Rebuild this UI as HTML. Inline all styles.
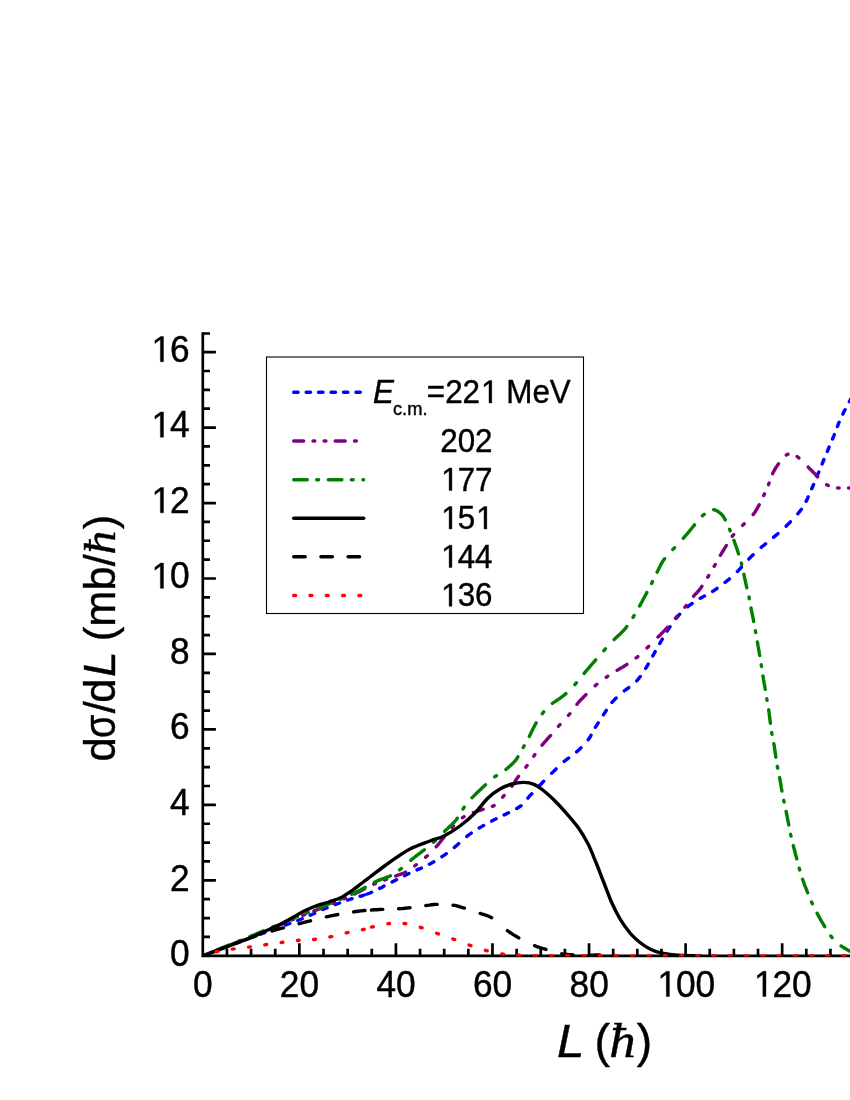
<!DOCTYPE html><html><head><meta charset="utf-8"><style>
html,body{margin:0;padding:0;background:#fff}
body{width:850px;height:1100px;overflow:hidden;font-family:"Liberation Sans",sans-serif}
svg{display:block;will-change:transform}
</style></head><body>
<svg width="850" height="1100" viewBox="0 0 850 1100">
<g stroke="#000" stroke-width="2.7" fill="none" stroke-linecap="butt">
<path d="M202.80 332.15 V957.15 M201.45 955.80 H851"/>
<path d="M202.80 333.50 h7.2M202.80 936.93 h7.2M202.80 918.07 h7.2M202.80 899.20 h7.2M202.80 880.34 h13.1M202.80 861.47 h7.2M202.80 842.61 h7.2M202.80 823.75 h7.2M202.80 804.88 h13.1M202.80 786.01 h7.2M202.80 767.15 h7.2M202.80 748.28 h7.2M202.80 729.42 h13.1M202.80 710.55 h7.2M202.80 691.69 h7.2M202.80 672.83 h7.2M202.80 653.96 h13.1M202.80 635.10 h7.2M202.80 616.23 h7.2M202.80 597.37 h7.2M202.80 578.50 h13.1M202.80 559.63 h7.2M202.80 540.77 h7.2M202.80 521.90 h7.2M202.80 503.04 h13.1M202.80 484.18 h7.2M202.80 465.31 h7.2M202.80 446.44 h7.2M202.80 427.58 h13.1M202.80 408.72 h7.2M202.80 389.85 h7.2M202.80 370.99 h7.2M202.80 352.12 h13.1M226.94 955.80 v-7.0M251.08 955.80 v-7.0M275.22 955.80 v-7.0M299.36 955.80 v-12.6M323.50 955.80 v-7.0M347.64 955.80 v-7.0M371.78 955.80 v-7.0M395.92 955.80 v-12.6M420.06 955.80 v-7.0M444.20 955.80 v-7.0M468.34 955.80 v-7.0M492.48 955.80 v-12.6M516.62 955.80 v-7.0M540.76 955.80 v-7.0M564.90 955.80 v-7.0M589.04 955.80 v-12.6M613.18 955.80 v-7.0M637.32 955.80 v-7.0M661.46 955.80 v-7.0M685.60 955.80 v-12.6M709.74 955.80 v-7.0M733.88 955.80 v-7.0M758.02 955.80 v-7.0M782.16 955.80 v-12.6M806.30 955.80 v-7.0M830.44 955.80 v-7.0"/>
</g>
<clipPath id="cp"><rect x="202.80" y="0" width="700" height="956.50"/></clipPath>
<g clip-path="url(#cp)" fill="none" stroke-linecap="round" stroke-linejoin="round" stroke-width="3.4">
<path d="M210.7 952.8L211.2 952.6L215.1 951.2M223.1 948.1L223.3 948.0L225.6 947.2L227.5 946.5M235.6 943.4L237.0 942.9L239.2 942.0L239.9 941.8M248.0 938.7L250.0 938.0L252.0 937.2L252.4 937.1M260.4 934.2L260.5 934.1L262.7 933.3L264.9 932.6M272.9 929.7L273.7 929.4L275.9 928.6L277.3 928.1M285.4 925.1L286.4 924.7L288.4 924.0L289.8 923.5M297.8 920.5L299.0 920.0L302.2 918.7M310.2 915.2L311.2 914.8L314.0 913.5L314.7 913.2M322.7 909.5L323.0 909.4L326.0 908.2L327.1 907.8M335.1 904.6L335.2 904.6L338.2 903.5L339.6 903.0M347.6 900.1L348.0 900.0L350.9 899.0L352.0 898.7M360.0 896.3L360.2 896.3L362.9 895.5L364.4 895.0M367.2 894.1L367.4 894.0L370.0 893.0L371.6 892.3M379.6 888.4L380.1 888.2L382.6 886.9L384.0 886.1M392.1 881.9L392.5 881.7L395.0 880.5L396.5 879.7M404.5 875.7L405.0 875.4L407.5 874.2L408.9 873.5M417.0 869.9L417.5 869.7L420.0 868.7L421.4 868.1M429.4 864.3L430.0 864.0L432.5 862.6L433.8 861.8M441.9 856.7L442.5 856.3L445.0 854.6L446.3 853.7M454.3 847.5L455.0 846.9L457.5 844.7L458.7 843.6M466.8 836.5L467.5 835.9L470.0 834.0L471.2 833.1M479.2 828.0L480.0 827.6L482.5 826.1L483.6 825.5M491.7 821.1L492.6 820.6L495.2 819.3L496.1 818.8M504.1 814.9L504.8 814.6L507.1 813.5L508.5 812.8M516.6 808.5L516.8 808.5L518.1 807.7L519.5 806.8L520.7 806.0L521.0 805.8M527.9 798.1L528.1 797.8L529.2 796.5L530.4 795.1L531.8 793.7M539.4 785.6L539.6 785.5L541.1 784.0L542.5 782.5L543.7 781.2M551.7 773.2L552.0 773.0L553.4 771.6L554.8 770.2L556.1 768.9M564.2 761.4L564.5 761.2L566.1 759.9L567.8 758.6L568.6 758.0M576.6 751.9L577.0 751.6L578.5 750.2L580.0 748.8L581.0 747.8M588.2 739.7L588.4 739.5L589.4 738.0L590.3 736.6L591.0 735.3M595.4 727.3L595.7 726.9L596.8 725.2L597.9 723.4L598.2 722.9M603.4 714.8L603.6 714.5L604.7 712.9L605.7 711.4L606.3 710.4M612.0 702.4L612.4 701.9L613.6 700.6L614.9 699.3L616.2 698.0M624.3 690.9L624.5 690.7L626.1 689.5L627.8 688.3L628.7 687.6M636.7 680.9L636.9 680.7L638.0 679.4L639.1 678.0L640.1 676.7L640.3 676.5M645.6 668.4L645.6 668.4L646.6 666.8L647.6 665.1L648.2 664.0M652.8 656.0L652.8 655.9L653.7 654.3L654.5 652.8L655.2 651.6M659.8 643.5L659.8 643.5L660.7 641.9L661.6 640.3L662.3 639.1M667.2 631.1L667.3 631.0L668.2 629.5L669.1 628.0L670.0 626.7M675.9 618.6L676.1 618.5L677.4 616.9L678.7 615.4L679.7 614.2M687.7 606.8L688.1 606.4L689.7 605.2L691.4 604.0L692.1 603.5M700.1 598.3L700.2 598.3L701.8 597.4L703.5 596.5L704.5 596.0M712.6 591.4L713.1 591.1L714.6 590.1L716.1 589.1L717.0 588.4M725.0 582.4L725.5 582.1L727.0 580.9L728.6 579.6L729.4 578.9M737.4 571.5L737.8 571.1L739.2 569.6L740.6 568.1L741.4 567.1M748.8 559.1L749.2 558.7L750.5 557.3L751.9 555.9L753.1 554.7M761.2 547.4L761.4 547.2L762.9 546.0L764.4 544.8L765.6 543.8M773.6 537.2L773.8 537.0L775.5 535.6L777.2 534.2L778.0 533.5M786.1 526.2L786.2 526.0L787.7 524.5L789.3 523.0L790.4 521.8M797.8 513.7L798.1 513.4L799.2 512.1L800.3 510.7L801.4 509.3L801.4 509.3M806.1 501.3L806.2 501.2L806.9 499.7L807.6 498.2L808.1 496.9M811.7 488.8L811.8 488.6L812.6 486.8L813.3 485.0L813.6 484.4M816.9 476.4L816.9 476.4L817.6 474.9L818.2 473.4L818.8 472.0M822.1 463.9L822.3 463.5L822.9 462.0L823.5 460.5L823.9 459.5M827.3 451.5L827.5 451.0L828.1 449.5L828.8 448.0L829.1 447.1M832.5 439.0L832.7 438.6L833.3 437.1L834.0 435.6L834.3 434.6M837.4 426.6L837.6 426.1L838.2 424.4L838.8 422.8L839.1 422.2M842.8 414.1L842.9 414.0L843.8 412.1L844.7 410.3L845.1 409.7M849.3 401.7L849.5 401.4L850.2 400.2L850.8 399.1L851.3 398.2L851.8 397.4L851.8 397.3" stroke="#0000ff"/>
<path d="M210.2 952.9L211.2 952.5L211.9 952.2M221.1 948.5L221.2 948.5L222.8 947.9M232.1 944.2L232.4 944.1L239.2 941.3L241.9 940.3M251.1 936.6L252.0 936.2L252.8 935.9M262.0 932.1L262.1 932.1L263.7 931.4M273.0 927.6L274.4 927.1L280.5 924.6L282.8 923.6M292.0 919.9L292.9 919.5L293.7 919.2M302.9 915.4L303.2 915.3L304.6 914.7M313.9 911.0L314.0 910.9L320.7 908.3L323.7 907.0M332.9 903.3L333.5 903.1L334.6 902.6M343.8 898.8L344.8 898.4L345.5 898.1M354.8 893.9L355.9 893.3L359.1 891.7L361.9 890.2L364.5 888.8L364.6 888.7M373.8 884.2L374.6 883.9L375.4 883.5L375.5 883.5M384.7 880.0L385.2 879.8L385.9 879.5L386.4 879.3M395.7 876.0L396.0 875.9L397.9 875.2L399.8 874.6L401.6 873.9L403.3 873.2L405.0 872.4L405.5 872.1M414.7 866.0L415.1 865.7L416.4 864.7M425.6 857.2L425.7 857.1L427.0 856.0L427.3 855.7M436.2 846.7L436.5 846.4L438.1 844.6L439.8 842.5L441.6 840.2L443.4 837.9L444.2 836.9M452.0 827.7L452.1 827.7L453.5 826.0M462.4 817.7L462.6 817.6L464.1 816.7M473.4 812.7L473.9 812.5L476.0 811.8L478.0 811.0L480.0 810.3L482.1 809.6L483.2 809.3M492.4 806.4L492.9 806.2L494.1 805.5M502.6 797.2L502.9 796.8L504.0 795.6L504.1 795.5M511.9 786.2L512.0 786.0L512.8 784.8L513.6 783.7L514.3 782.7L515.0 781.6L515.6 780.5L516.3 779.4L517.1 778.2L518.0 777.0L518.5 776.4M525.8 767.2L525.9 767.0L527.0 765.6L527.1 765.5M533.7 756.3L533.7 756.2L534.7 754.9L534.9 754.6M542.0 745.3L542.0 745.2L543.0 744.0L544.0 742.8L545.0 741.7L546.0 740.6L546.9 739.5L547.9 738.4L548.9 737.3L550.0 736.2L550.6 735.5M558.5 726.3L558.8 725.9L560.0 724.6L560.0 724.6M568.4 715.4L568.5 715.3L569.6 714.0L569.9 713.7M576.9 704.4L576.9 704.3L578.0 703.0L579.1 701.7L580.2 700.5L581.3 699.3L582.5 698.2L583.6 697.0L584.7 695.9L585.9 694.7L586.0 694.6M595.2 685.7L595.6 685.3L596.8 684.3L596.9 684.2M606.1 677.3L606.2 677.3L607.5 676.4L607.8 676.2M617.1 670.3L617.4 670.1L618.7 669.4L619.9 668.6L621.2 667.9L622.4 667.2L623.7 666.5L624.9 665.7L626.2 664.9L626.9 664.4M636.1 658.0L636.5 657.7L637.8 656.6M647.0 647.9L647.2 647.8L648.4 646.6L648.7 646.3M658.0 637.0L658.1 636.9L659.3 635.8L660.4 634.7L661.5 633.5L662.7 632.4L663.8 631.3L664.9 630.2L666.0 629.0L667.1 627.8L667.6 627.3M675.5 618.1L675.9 617.7L677.0 616.4L677.0 616.4M684.8 607.2L684.9 607.2L686.0 605.8L686.2 605.5M693.6 596.2L693.7 596.0L694.7 594.9L695.8 593.8L696.8 592.8L697.8 591.7L698.7 590.6L699.7 589.4L700.6 588.2L701.5 586.9L701.9 586.4M707.7 577.2L707.8 577.0L708.7 575.7L708.8 575.5M714.2 566.3L714.4 566.0L715.2 564.6M720.4 555.3L720.5 555.1L721.3 553.8L722.0 552.5L722.8 551.3L723.5 550.1L724.3 548.8L725.0 547.6L725.8 546.4L726.3 545.5M732.2 536.3L732.3 536.2L733.3 535.0L733.7 534.6M742.6 525.4L742.8 525.2L744.2 523.8L744.3 523.8M753.1 514.6L753.3 514.4L754.1 513.3L754.9 512.2L755.6 511.1L756.3 510.0L756.9 508.9L757.6 507.8L758.2 506.6L758.9 505.4L759.2 504.8M763.7 495.6L763.8 495.2L764.5 493.9M768.5 484.7L768.5 484.6L769.0 483.2L769.1 483.0M772.6 473.7L772.7 473.4L773.3 472.3L773.9 471.2L774.4 470.1L775.1 469.0L775.7 467.9L776.5 466.8L777.3 465.6L778.2 464.3L778.5 463.9M786.3 455.0L786.4 454.9L787.1 454.5L787.6 454.3L788.0 454.2M797.2 456.5L797.4 456.7L798.7 457.8L798.9 458.0M808.2 467.1L808.3 467.3L809.4 468.4L810.6 469.5L811.7 470.6L812.8 471.8L813.9 472.9L815.0 474.0L816.1 475.2L817.2 476.4L817.7 476.9M826.6 484.7L826.9 484.8L828.1 485.4L828.3 485.5M837.5 487.9L837.7 487.9L839.2 488.0M848.5 488.0L848.8 488.0L850.6 488.0L852.0 488.0" stroke="#800080"/>
<path d="M204.9 954.9L205.1 954.9L206.4 954.3L206.7 954.2M216.1 950.4L217.0 950.0L223.3 947.4L229.6 944.9M238.8 941.1L239.2 940.9L240.6 940.4M250.0 936.5L252.0 935.7L258.1 933.1L263.5 930.9M272.7 927.0L274.4 926.3L274.5 926.2M283.9 922.3L284.7 922.0L290.8 919.4L297.0 916.8L297.4 916.7M306.6 912.9L307.4 912.6L308.4 912.2M317.8 908.4L318.3 908.2L324.9 905.6L331.2 903.0L331.3 903.0M340.5 899.2L341.1 899.0L342.3 898.5M351.7 894.3L352.5 893.9L356.6 891.9L360.3 890.0L363.6 888.1L365.2 887.2M374.4 882.3L375.0 882.0L375.9 881.6L376.2 881.4M376.9 881.1L377.5 880.9L379.7 879.9L381.7 879.2L383.6 878.5L385.3 877.9L386.9 877.3L388.4 876.7L390.0 876.0L390.4 875.8M399.6 869.9L400.0 869.6L401.3 868.6L401.4 868.5M410.8 860.2L411.0 860.0L412.5 858.8L414.2 857.5L415.9 856.2L417.6 854.9L419.3 853.6L420.9 852.4L422.5 851.2L424.0 850.0L424.3 849.8M433.5 842.4L433.6 842.4L434.8 841.2L435.3 840.8M444.6 831.5L444.9 831.1L446.5 829.6L448.0 828.1L449.6 826.6L451.3 825.0L452.8 823.5L454.3 822.0L455.6 820.5L456.8 819.0L457.3 818.2M463.0 809.0L463.0 809.0L463.8 807.8L464.2 807.2M472.0 797.8L472.2 797.7L473.7 796.1L475.2 794.6L476.8 793.0L478.4 791.4L480.0 789.9L481.5 788.5L483.0 787.1L484.4 785.7L485.5 784.7M494.7 776.8L494.8 776.7L496.2 775.8L496.5 775.7M505.9 769.5L505.9 769.5L507.3 768.3L508.8 767.1L510.2 765.8L511.6 764.5L513.0 763.2L514.2 761.9L515.4 760.6L516.4 759.2L517.4 757.8L517.9 756.8M523.2 747.6L523.3 747.4L524.0 746.1L524.2 745.8M529.3 736.4L529.4 736.2L530.3 734.4L531.2 732.6L532.1 730.7L533.0 728.8L533.9 727.1L534.7 725.5L535.5 724.1L536.2 722.9M542.3 713.7L542.4 713.6L543.3 712.4L543.7 711.9M552.4 703.4L552.7 703.1L554.6 701.9L556.5 700.6L558.4 699.3L560.2 698.1L561.9 696.8L563.5 695.6L565.0 694.3L565.9 693.6M574.9 684.6L575.1 684.4L576.1 683.2L576.4 682.8M584.2 673.4L584.6 672.9L586.0 671.2L587.4 669.5L588.9 667.8L590.3 666.2L591.7 664.5L593.0 663.0L594.3 661.6L595.5 660.2L595.7 659.9M603.9 650.7L603.9 650.7L605.0 649.4L605.4 648.9M614.1 639.6L614.6 639.1L616.2 637.6L617.9 636.0L619.6 634.5L621.2 632.9L622.7 631.4L624.0 630.0L625.2 628.6L626.3 627.2L626.8 626.5M633.0 617.3L633.0 617.3L633.8 616.0L634.1 615.5M639.6 606.1L639.7 605.9L640.6 604.2L641.5 602.5L642.5 600.8L643.3 599.1L644.2 597.5L645.0 596.0L645.8 594.6L646.5 593.2L646.8 592.6M651.6 583.4L651.7 583.2L652.4 581.9L652.5 581.6M657.1 572.2L657.3 571.7L658.2 570.0L659.0 568.2L659.9 566.5L660.8 564.7L661.7 563.1L662.7 561.5L663.6 560.0L664.6 558.7M672.8 549.5L672.9 549.4L674.1 548.2L674.5 547.7M683.3 538.3L683.7 537.9L685.1 536.2L686.6 534.5L688.0 532.8L689.4 531.2L690.7 529.5L692.0 528.0L693.2 526.5L694.3 525.1L694.5 524.8M702.4 515.8L702.6 515.6L703.8 514.6L704.2 514.3M713.6 509.7L713.7 509.7L714.2 509.8L714.8 509.9L715.4 510.1L716.1 510.4L716.7 510.7L717.3 511.1L718.0 511.5L718.6 511.9L719.2 512.4L719.8 512.8L720.4 513.3L720.9 513.8L721.4 514.2L721.8 514.7L722.3 515.2L722.8 515.8L723.3 516.5L723.8 517.3L724.4 518.3L725.0 519.4L725.2 519.9M729.5 529.1L729.5 529.2L730.0 530.4L730.2 530.9M733.9 540.3L734.0 540.7L734.7 542.5L735.3 544.4L736.0 546.2L736.7 548.1L737.3 549.9L737.8 551.5L738.3 553.0L738.6 553.8M741.3 563.0L741.3 563.3L741.7 564.6L741.7 564.8M743.9 574.2L743.9 574.5L744.3 576.2L744.6 577.8L745.0 579.5L745.4 581.2L745.7 582.8L746.1 584.5L746.4 586.0L746.7 587.5L746.8 587.7M749.0 596.9L749.0 597.0L749.3 598.4L749.3 598.7M751.0 608.1L751.1 608.5L751.4 610.0L751.7 611.5L752.0 613.0L752.3 614.5L752.6 616.0L752.9 617.5L753.2 619.0L753.5 620.5L753.7 621.6M755.4 630.8L755.4 631.0L755.6 632.4L755.7 632.6M757.4 642.0L757.4 642.0L757.7 643.5L757.9 645.2L758.2 646.8L758.5 648.5L758.8 650.2L759.1 651.8L759.3 653.5L759.6 655.0L759.7 655.5M761.2 664.7L761.2 665.0L761.5 666.5M762.9 675.9L763.0 676.1L763.3 677.9L763.5 679.5L763.8 681.0L764.0 682.3L764.2 683.6L764.5 684.9L764.7 686.0L764.9 687.2L765.1 688.4L765.3 689.4M766.8 698.6L766.8 698.7L767.0 699.9L767.1 700.4M768.7 709.8L768.7 710.1L769.0 711.9L769.2 713.9L769.5 715.9L769.7 718.1L770.0 720.1L770.2 722.1L770.4 723.3M771.7 732.5L771.7 732.8L771.9 733.9L772.0 734.3M773.8 743.7L773.9 744.0L774.2 745.8L774.5 747.7L774.8 749.7L775.1 751.8L775.4 753.9L775.7 755.9L775.9 757.2M777.3 766.4L777.4 766.5L777.6 767.6L777.7 768.2M779.6 777.6L779.7 777.9L780.0 779.6L780.3 781.5L780.7 783.5L781.0 785.5L781.3 787.6L781.7 789.6L781.9 791.1M783.7 800.3L783.8 800.7L784.0 801.9L784.1 802.1M786.1 811.5L786.1 811.5L786.5 813.4L786.9 815.3L787.3 817.4L787.7 819.7L788.2 822.2L788.7 824.7L788.8 825.0M790.6 834.2L790.6 834.3L790.8 835.2L791.0 836.0M793.3 845.4L793.3 845.5L793.9 848.0L794.6 850.5L795.2 853.0L795.8 855.3L796.4 857.4L796.7 858.9M799.2 868.1L799.3 868.6L799.7 869.9M802.6 879.3L802.7 879.5L803.3 881.3L804.0 883.3L804.7 885.3L805.6 887.4L806.5 889.7L807.4 892.1L807.7 892.8M811.6 902.0L811.9 902.7L812.3 903.5L812.4 903.8M817.1 913.2L817.2 913.6L818.4 915.6L819.5 917.7L820.7 919.8L822.0 922.0L823.4 924.3L824.8 926.6L824.8 926.7M830.8 935.9L830.9 936.1L832.1 937.7M841.0 945.9L841.4 946.1L842.9 947.1L844.3 948.0L845.6 948.7L846.7 949.5L847.7 950.1L848.7 950.6L849.5 950.9L850.2 951.3L850.9 951.5L851.4 951.7L851.9 951.9L852.0 952.0" stroke="#008000"/>
<path d="M202.8 955.8C206.7 954.3 218.1 950.0 226.0 947.0C233.9 944.0 242.7 941.0 250.0 938.0C257.3 935.0 264.7 931.4 270.0 929.0C275.3 926.6 277.9 925.5 281.8 923.5C285.7 921.5 289.6 919.2 293.5 917.0C297.4 914.8 301.4 912.4 305.3 910.5C309.2 908.6 313.1 906.9 317.0 905.5C320.9 904.1 324.9 903.3 328.8 902.0C332.7 900.7 336.7 899.8 340.6 897.8C344.5 895.8 348.5 893.0 352.4 890.3C356.3 887.6 361.1 883.7 364.0 881.5C366.9 879.3 365.7 880.2 370.0 877.0C374.3 873.8 383.3 866.7 390.0 862.0C396.7 857.3 403.3 852.5 410.0 849.0C416.7 845.5 424.3 843.2 430.0 841.0C435.7 838.8 439.0 838.5 444.0 836.0C449.0 833.5 455.0 829.7 460.0 826.0C465.0 822.3 469.3 818.7 474.0 814.0C478.7 809.3 483.7 802.2 488.0 798.0C492.3 793.8 496.0 791.3 500.0 789.0C504.0 786.7 508.0 785.1 512.0 784.0C516.0 782.9 520.3 782.3 524.0 782.4C527.7 782.5 530.7 783.0 534.0 784.4C537.3 785.8 540.7 788.4 544.0 791.0C547.3 793.6 550.3 796.4 554.0 800.0C557.7 803.6 562.0 808.2 566.0 812.8C570.0 817.3 574.3 822.1 578.0 827.3C581.7 832.5 585.0 837.9 588.0 843.8C591.0 849.7 593.3 856.0 596.0 862.5C598.7 869.0 601.3 876.2 604.0 883.0C606.7 889.8 609.3 897.3 612.0 903.3C614.7 909.3 617.0 913.8 620.0 918.8C623.0 923.8 626.7 929.0 630.0 933.0C633.3 937.0 636.7 939.8 640.0 942.5C643.3 945.2 646.7 947.3 650.0 949.0C653.3 950.7 656.3 951.7 660.0 952.6C663.7 953.5 668.0 954.1 672.0 954.6C676.0 955.1 679.3 955.3 684.0 955.5C688.7 955.7 697.3 955.8 700.0 955.8" stroke="#000000"/>
<path d="M217.6 950.2L218.2 950.0L225.0 947.3L229.0 945.8M244.8 939.9L245.0 939.8L250.0 938.0L253.9 936.6L256.2 935.8M272.0 931.0L273.1 930.7L276.5 929.7L280.2 928.7L283.4 927.9M299.2 923.7L299.5 923.6L303.2 922.7L306.9 921.7L310.5 920.8L310.6 920.8M326.4 916.8L327.4 916.6L331.0 915.8L334.7 915.1L337.8 914.5M353.6 911.9L354.4 911.7L357.8 911.3L361.1 910.9L364.1 910.5L365.0 910.5M371.4 910.0L371.4 910.0L374.1 909.8L376.7 909.7L379.3 909.5L382.0 909.4L382.8 909.4M398.6 908.8L399.2 908.8L402.0 908.6L405.0 908.3L408.3 907.9L410.0 907.7M425.8 905.6L426.7 905.4L429.3 905.1L431.3 904.8L432.7 904.7L433.8 904.5L434.5 904.5L435.2 904.4L435.8 904.4L436.5 904.4L437.2 904.4M453.0 905.2L453.1 905.2L454.6 905.4L456.0 905.7L457.5 906.1L458.9 906.5L460.3 906.9L461.8 907.4L463.4 907.8L464.4 908.1M480.2 913.4L480.7 913.6L482.4 914.1L484.0 914.6L485.6 915.1L487.1 915.6L488.7 916.3L490.3 917.1L491.6 917.8M507.4 930.6L507.7 930.8L509.3 932.0L510.9 933.0L512.5 934.1L514.1 935.1L515.7 936.1L517.3 937.0L518.8 937.9M534.6 945.7L534.9 945.8L535.8 946.2L536.6 946.5L537.4 946.8L538.1 947.0L538.9 947.2L539.7 947.5L540.6 947.8L541.5 948.1L542.4 948.4L543.4 948.7L544.3 948.9L545.3 949.2L546.0 949.4M561.8 953.8L562.2 953.9L563.9 954.1L565.5 954.3L567.3 954.5L569.1 954.7L571.2 954.8L573.2 954.9M589.0 955.1L589.7 955.1L593.1 955.1L596.3 955.0L598.8 955.0L600.0 955.0" stroke="#000000"/>
<path d="M216.0 951.8L216.4 951.7L217.8 951.4M232.3 949.1L232.3 949.1L234.1 948.9M248.5 947.1L248.9 947.1L250.3 946.9M264.8 944.8L265.3 944.7L266.0 944.6L266.6 944.5M281.1 942.5L281.3 942.5L282.9 942.3M297.4 940.5L297.7 940.5L299.1 940.3M313.6 939.5L313.9 939.5L315.4 939.3M329.9 936.9L330.3 936.8L331.7 936.6M346.2 932.9L346.7 932.8L347.4 932.6L348.0 932.5M362.4 929.7L362.9 929.6L364.2 929.3M371.5 927.1L371.5 927.1L373.1 926.7L373.3 926.7M387.8 923.7L387.9 923.7L389.6 923.5M404.0 923.5L404.3 923.5L405.8 923.7M420.3 927.3L420.7 927.4L422.1 927.8M436.6 933.2L436.9 933.4L438.4 933.9M452.9 939.0L453.3 939.2L454.0 939.4L454.7 939.6M469.1 945.1L469.3 945.2L470.9 945.7M485.4 950.3L485.9 950.4L486.6 950.6L487.2 950.8M501.7 953.9L501.9 953.9L503.5 954.1M517.9 955.1L518.3 955.2L519.7 955.2M534.2 955.8L534.3 955.8L536.0 955.8M550.5 955.8L551.0 955.8L551.7 955.8L552.3 955.8M566.7 955.8L567.0 955.8L568.5 955.8M583.0 955.8L583.7 955.8L584.3 955.8L584.8 955.8M599.3 955.8L599.7 955.8L601.1 955.8M615.5 955.8L615.7 955.8L617.3 955.8M631.8 955.8L632.3 955.8L633.0 955.8L633.6 955.8M648.1 955.8L648.3 955.8L649.9 955.8M664.4 955.8L665.0 955.8L665.7 955.8L666.2 955.8M680.6 955.8L681.0 955.8L682.4 955.8M696.9 955.8L697.0 955.8L698.7 955.8M713.2 955.8L713.7 955.8L714.3 955.8L715.0 955.8M729.4 955.8L729.7 955.8L731.2 955.8M745.7 955.8L746.3 955.8L747.0 955.8L747.5 955.8M762.0 955.8L762.3 955.8L763.8 955.8M778.2 955.8L778.3 955.8L780.0 955.8M794.5 955.8L795.0 955.8L795.7 955.8L796.3 955.8M810.8 955.8L811.0 955.8L812.6 955.8M827.1 955.8L827.7 955.8L828.3 955.8L828.9 955.8M843.3 955.8L843.4 955.8L845.1 955.8" stroke="#ff0000"/>
</g>
<rect x="266.5" y="357.0" width="317" height="256.5" fill="none" stroke="#000" stroke-width="1.1"/>
<g fill="none" stroke-linecap="round" stroke-width="3.4">
<path d="M293.7 392.3 H363.7" stroke="#0000ff" stroke-dasharray="4.4 8.05"/>
<path d="M293.7 441.0 H363.7" stroke="#800080" stroke-dasharray="10 9.3 1.8 9.3 1.8 9.3"/>
<path d="M293.7 479.7 H363.7" stroke="#008000" stroke-dasharray="13.6 9.4 1.9 9.7"/>
<path d="M293.7 518.2 H363.7" stroke="#000"/>
<path d="M293.7 556.8 H363.7" stroke="#000" stroke-dasharray="11.5 15.7"/>
<path d="M293.7 595.5 H363.7" stroke="#ff0000" stroke-dasharray="1.9 14.4"/>
</g>
<g font-family="Liberation Sans, sans-serif" fill="#000" stroke="#000" stroke-width="0.4" stroke-linejoin="round" style="white-space:pre">
<text transform="translate(169.97 966.10) scale(1 1.040)" font-size="35.3">0</text>
<text transform="translate(169.97 890.55) scale(1 1.040)" font-size="35.3">2</text>
<text transform="translate(169.97 815.00) scale(1 1.040)" font-size="35.3">4</text>
<text transform="translate(169.97 739.46) scale(1 1.040)" font-size="35.3">6</text>
<text transform="translate(169.97 663.91) scale(1 1.040)" font-size="35.3">8</text>
<path vector-effect="non-scaling-stroke" transform="translate(150.34 588.36) scale(0.01724 -0.01793)" d="M582 0V1237L264 1010V1180L597 1409H763V0Z"/>
<text transform="translate(169.97 588.36) scale(1 1.040)" font-size="35.3">0</text>
<path vector-effect="non-scaling-stroke" transform="translate(150.34 512.81) scale(0.01724 -0.01793)" d="M582 0V1237L264 1010V1180L597 1409H763V0Z"/>
<text transform="translate(169.97 512.81) scale(1 1.040)" font-size="35.3">2</text>
<path vector-effect="non-scaling-stroke" transform="translate(150.34 437.27) scale(0.01724 -0.01793)" d="M582 0V1237L264 1010V1180L597 1409H763V0Z"/>
<text transform="translate(169.97 437.27) scale(1 1.040)" font-size="35.3">4</text>
<path vector-effect="non-scaling-stroke" transform="translate(150.34 361.72) scale(0.01724 -0.01793)" d="M582 0V1237L264 1010V1180L597 1409H763V0Z"/>
<text transform="translate(169.97 361.72) scale(1 1.040)" font-size="35.3">6</text>
<text transform="translate(193.08 996.60) scale(1 1.040)" font-size="35.3">0</text>
<text transform="translate(279.83 996.60) scale(1 1.040)" font-size="35.3">20</text>
<text transform="translate(376.39 996.60) scale(1 1.040)" font-size="35.3">40</text>
<text transform="translate(472.95 996.60) scale(1 1.040)" font-size="35.3">60</text>
<text transform="translate(569.51 996.60) scale(1 1.040)" font-size="35.3">80</text>
<path vector-effect="non-scaling-stroke" transform="translate(656.25 996.60) scale(0.01724 -0.01793)" d="M582 0V1237L264 1010V1180L597 1409H763V0Z"/>
<text transform="translate(675.88 996.60) scale(1 1.040)" font-size="35.3">00</text>
<path vector-effect="non-scaling-stroke" transform="translate(752.81 996.60) scale(0.01724 -0.01793)" d="M582 0V1237L264 1010V1180L597 1409H763V0Z"/>
<text transform="translate(772.44 996.60) scale(1 1.040)" font-size="35.3">20</text>
<text transform="translate(373.00 403.00) scale(1 1.040)" font-size="31.4" font-style="italic">E</text>
<text transform="translate(392.94 415.30) scale(1 1.040)" font-size="18.3">c.m.</text>
<text transform="translate(426.81 403.00) scale(1 1.040)" font-size="31.4">=22</text>
<path vector-effect="non-scaling-stroke" transform="translate(480.07 403.00) scale(0.01533 -0.01595)" d="M582 0V1237L264 1010V1180L597 1409H763V0Z"/>
<text transform="translate(506.26 403.00) scale(1 1.040)" font-size="31.4">MeV</text>
<text transform="translate(440.20 451.80) scale(1 1.040)" font-size="31.4">202</text>
<path vector-effect="non-scaling-stroke" transform="translate(440.20 490.50) scale(0.01533 -0.01595)" d="M582 0V1237L264 1010V1180L597 1409H763V0Z"/>
<text transform="translate(457.66 490.50) scale(1 1.040)" font-size="31.4">77</text>
<path vector-effect="non-scaling-stroke" transform="translate(440.20 529.00) scale(0.01533 -0.01595)" d="M582 0V1237L264 1010V1180L597 1409H763V0Z"/>
<text transform="translate(457.66 529.00) scale(1 1.040)" font-size="31.4">5</text>
<path vector-effect="non-scaling-stroke" transform="translate(475.13 529.00) scale(0.01533 -0.01595)" d="M582 0V1237L264 1010V1180L597 1409H763V0Z"/>
<path vector-effect="non-scaling-stroke" transform="translate(440.20 567.60) scale(0.01533 -0.01595)" d="M582 0V1237L264 1010V1180L597 1409H763V0Z"/>
<text transform="translate(457.66 567.60) scale(1 1.040)" font-size="31.4">44</text>
<path vector-effect="non-scaling-stroke" transform="translate(440.20 606.30) scale(0.01533 -0.01595)" d="M582 0V1237L264 1010V1180L597 1409H763V0Z"/>
<text transform="translate(457.66 606.30) scale(1 1.040)" font-size="31.4">36</text>
<text transform="translate(557.00 1057.4) scale(1.06 1)" font-size="46.4" font-style="italic">L</text>
<text x="594.50" y="1057.4" font-size="46.4">(</text>
<text transform="translate(609.35 1057.4) scale(1.1 1)" font-family="Liberation Serif, serif" font-style="italic" font-size="48">ħ</text>
<text x="636.75" y="1057.4" font-size="46.4">)</text>
<g transform="translate(114.5 761) rotate(-90)" font-size="43.5">
<text transform="translate(-0.60 0) scale(1.000 1)">d</text>
<text transform="translate(22.99 0) scale(0.870 1)">σ</text>
<text transform="translate(47.84 0) scale(1.000 1)">/</text>
<text transform="translate(58.33 0) scale(1.000 1)">d</text>
<text transform="translate(84.12 0) scale(1.060 1)" font-style="italic">L</text>
<text transform="translate(119.80 0) scale(1.000 1)">(mb/</text>
<text transform="translate(206.40 0) scale(1.060 1)" font-style="italic" font-family="Liberation Serif, serif" font-size="45">ħ</text>
<text transform="translate(231.85 0) scale(1.000 1)">)</text>
</g>
</g>
</svg>
</body></html>
